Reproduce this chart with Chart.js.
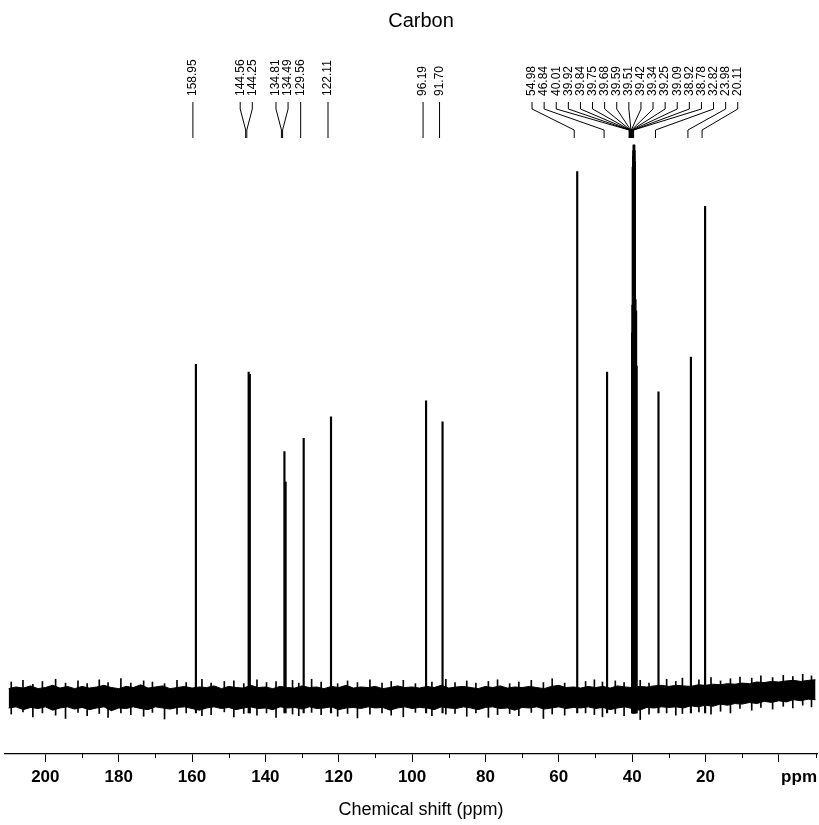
<!DOCTYPE html>
<html>
<head>
<meta charset="utf-8">
<script src="https://cdn.jsdelivr.net/npm/chart.js@4.4.1/dist/chart.umd.min.js"></script>
<style>
  html, body { margin: 0; padding: 0; background: #fff; }
</style>
</head>
<body>
<canvas id="nmr" width="819" height="825"></canvas>
<script>
// chart texts
const chartTitle = 'Carbon';
const axisTitle = 'Chemical shift (ppm)';

// peak list (ppm) and heights (% of tallest line, DMSO)
const peakShifts = [158.95, 144.56, 144.25, 134.81, 134.49, 129.56, 122.11, 96.19, 91.70,
  54.98, 46.84, 40.01, 39.92, 39.84, 39.75, 39.68, 39.59, 39.51, 39.42, 39.34, 39.25,
  39.09, 38.92, 38.78, 32.82, 23.98, 20.11];
const peakLabels = ['158.95', '144.56', '144.25', '134.81', '134.49', '129.56', '122.11', '96.19', '91.70',
  '54.98', '46.84', '40.01', '39.92', '39.84', '39.75', '39.68', '39.59', '39.51', '39.42', '39.34', '39.25',
  '39.09', '38.92', '38.78', '32.82', '23.98', '20.11'];
const peakHeights = [60.3, 58.9, 58.5, 44.5, 39.0, 46.9, 50.8, 53.7, 49.9,
  95.2, 58.9, 66, 71, 96, 98, 99, 100, 100, 100, 99, 97,
  72, 70, 60, 55.3, 61.6, 88.9];
const peakBase = -2.8;

// baseline noise: dense core envelope ...
const noisePpm = [210, 208, 206, 204, 202, 200, 198, 196, 194, 192,
  190, 188, 186, 184, 182, 180, 178, 176, 174, 172,
  170, 168, 166, 164, 162, 160, 158, 156, 154, 152,
  150, 148, 146, 144, 142, 140, 138, 136, 134, 132,
  130, 128, 126, 124, 122, 120, 118, 116, 114, 112,
  110, 108, 106, 104, 102, 100, 98, 96, 94, 92,
  90, 88, 86, 84, 82, 80, 78, 76, 74, 72,
  70, 68, 66, 64, 62, 60, 58, 56, 54, 52,
  50, 48, 46, 44, 42, 40, 38, 36, 34, 32,
  30, 28, 26, 24, 22, 20, 18, 16, 14, 12,
  10, 8, 6, 4, 2, 0, -2, -4, -6, -8, -10];
const noiseTop = [1.6, 1.9, 1.7, 2.1, 1.6, 1.8, 2.2, 1.7, 2.0, 1.6,
  2.0, 1.7, 1.9, 2.2, 1.8, 1.6, 2.0, 1.8, 2.3, 1.7,
  1.9, 2.1, 1.6, 1.8, 2.0, 1.7, 1.9, 1.8, 2.1, 1.6,
  2.0, 1.8, 1.7, 2.2, 1.8, 1.9, 1.6, 2.0, 1.8, 1.7,
  2.1, 1.8, 1.9, 1.6, 2.0, 1.8, 2.2, 1.7, 1.9, 1.8,
  2.0, 1.6, 1.8, 2.1, 1.8, 1.9, 1.7, 2.0, 1.8, 2.2,
  1.7, 1.9, 2.0, 1.8, 1.6, 2.0, 1.8, 2.1, 1.7, 1.9,
  1.8, 2.0, 1.8, 1.6, 2.0, 2.2, 1.8, 1.9, 1.7, 2.0,
  1.8, 2.0, 1.7, 2.1, 1.9, 1.8, 2.0, 1.9, 2.1, 2.2,
  2.0, 2.2, 2.1, 2.0, 2.3, 2.2, 2.4, 2.3, 2.5, 2.4,
  2.6, 2.5, 2.8, 2.7, 2.9, 2.8, 3.0, 3.1, 2.9, 3.1, 3.2];
const noiseBottom = [-1.9, -1.7, -2.2, -1.8, -2.0, -1.7, -2.3, -1.9, -1.7, -2.1,
  -1.8, -2.2, -1.9, -1.7, -2.4, -1.9, -2.0, -1.7, -2.0, -2.2,
  -1.7, -1.9, -2.1, -1.8, -1.7, -2.0, -2.3, -1.9, -1.7, -2.0,
  -1.8, -2.2, -1.9, -1.7, -2.0, -1.9, -2.2, -1.7, -1.9, -1.8,
  -2.1, -1.7, -2.0, -1.9, -1.7, -2.2, -1.9, -1.8, -2.0, -1.7,
  -1.9, -1.8, -2.3, -1.9, -1.7, -2.0, -1.8, -1.9, -2.2, -1.7,
  -1.9, -2.0, -1.7, -1.9, -2.2, -1.8, -1.7, -2.0, -1.9, -2.3,
  -1.8, -1.9, -1.7, -2.1, -1.9, -1.7, -2.0, -1.8, -1.9, -1.7,
  -2.0, -1.8, -2.2, -1.9, -1.7, -2.0, -2.3, -1.8, -1.9, -1.7,
  -1.8, -1.7, -1.9, -1.5, -1.7, -1.4, -1.6, -1.2, -1.4, -1.1,
  -1.2, -0.9, -1.1, -0.7, -0.9, -0.6, -0.8, -0.4, -0.6, -0.3, -0.4];

// ... and the spikes sticking out of it
const spikePpm = [209.3, 206.1, 203.4, 200.8, 197.2, 194.5, 191.1, 188.6, 185.3, 182.9,
  179.4, 176.7, 173.2, 170.8, 167.5, 164.1, 161.6, 157.3, 154.8, 151.2,
  148.6, 145.9, 142.3, 139.7, 137.1, 132.6, 130.9, 127.4, 124.8, 120.3,
  117.6, 114.9, 111.5, 108.2, 105.7, 102.4, 99.1, 94.6, 90.8, 88.3,
  85.1, 82.6, 79.2, 76.7, 73.4, 70.9, 67.5, 64.2, 61.8, 58.4,
  52.7, 50.3, 48.1, 44.6, 42.2, 37.8, 35.4, 30.6, 28.1, 26.3,
  21.8, 18.5, 15.9, 13.2, 10.6, 7.4, 4.9, 1.7, -1.2, -3.8, -6.5, -8.9];
const spikeHi = [2.8, 3.1, 2.4, 2.9, 3.3, 2.6, 3.0, 2.5, 3.2, 2.7,
  3.4, 2.6, 3.0, 2.8, 2.5, 3.1, 2.7, 3.3, 2.6, 2.9,
  3.0, 2.5, 3.2, 2.7, 2.9, 3.1, 2.6, 3.3, 2.8, 2.5,
  3.0, 2.7, 3.2, 2.6, 2.9, 3.1, 2.5, 2.8, 3.3, 2.7,
  3.0, 2.6, 2.9, 3.2, 2.5, 2.8, 3.1, 2.7, 3.4, 2.6,
  2.9, 3.2, 2.8, 3.0, 2.7, 3.1, 2.6, 3.3, 2.9, 3.5,
  3.2, 3.6, 3.0, 3.4, 3.7, 3.5, 3.9, 3.6, 4.0, 3.8, 4.2, 3.9];
const spikeLo = [-3.0, -2.6, -3.5, -2.8, -3.2, -3.8, -2.7, -3.3, -2.9, -3.6,
  -2.8, -3.1, -3.4, -2.7, -3.9, -3.0, -2.8, -3.3, -3.1, -2.6,
  -3.5, -2.9, -3.2, -2.8, -3.6, -3.0, -3.3, -2.7, -3.1, -3.4,
  -2.9, -3.7, -3.0, -2.8, -3.2, -3.5, -2.7, -3.3, -3.0, -2.9,
  -3.4, -2.8, -3.6, -3.1, -2.9, -3.3, -2.7, -3.8, -3.0, -3.2,
  -2.8, -3.1, -3.5, -2.9, -3.3, -4.0, -3.0, -2.8, -3.2, -2.9,
  -2.6, -3.0, -2.5, -2.8, -2.0, -2.3, -1.8, -2.1, -1.6, -1.9, -1.4, -1.7];

// axis ticks
const tickValues = [200, 180, 160, 140, 120, 100, 80, 60, 40, 20, 0];
const minorTickValues = [190, 170, 150, 130, 110, 90, 70, 50, 30, 10, -10];

const FONT = '"Liberation Sans", Arial, Helvetica, sans-serif';

// spread labels so they don't overlap (min gap in px)
function spreadLabels(want, gap) {
  let groups = want.map(w => ({ start: w, n: 1, sum: w }));
  let merged = true;
  while (merged) {
    merged = false;
    for (let i = 0; i < groups.length - 1; i++) {
      const a = groups[i], b = groups[i + 1];
      if (a.start + a.n * gap > b.start) {
        const n = a.n + b.n, sum = a.sum + b.sum;
        groups.splice(i, 2, { start: sum / n - (n - 1) * gap / 2, n: n, sum: sum });
        merged = true;
        break;
      }
    }
  }
  const out = [];
  groups.forEach(g => { for (let k = 0; k < g.n; k++) out.push(g.start + k * gap); });
  return out;
}

const annotate = {
  id: 'annotate',
  afterDraw(chart) {
    const ctx = chart.ctx;
    const xs = chart.scales.x;
    ctx.save();
    ctx.fillStyle = '#000';
    ctx.strokeStyle = '#000';

    // title
    ctx.font = '20px ' + FONT;
    ctx.textAlign = 'center';
    ctx.textBaseline = 'alphabetic';
    ctx.fillText(chartTitle, 421, 27);

    // peak labels + connectors (the scan sits a few px left of the sticks)
    const want = peakShifts.map(p => xs.getPixelForValue(p) - 3);
    const pos = spreadLabels(want, 12.1);
    ctx.lineWidth = 1;
    for (let i = 0; i < want.length; i++) {
      ctx.beginPath();
      ctx.moveTo(pos[i], 102);
      ctx.lineTo(pos[i], 109);
      ctx.lineTo(want[i], 130);
      ctx.lineTo(want[i], 138);
      ctx.stroke();

      ctx.save();
      ctx.translate(pos[i], 96);
      ctx.rotate(-Math.PI / 2);
      ctx.font = '12px ' + FONT;
      ctx.textAlign = 'left';
      ctx.textBaseline = 'middle';
      ctx.fillText(peakLabels[i], 0, 0);
      ctx.restore();
    }

    // minor ticks
    const y0 = xs.top;
    ctx.lineWidth = 1;
    minorTickValues.forEach(v => {
      const px = Math.round(xs.getPixelForValue(v)) + 0.5;
      ctx.beginPath();
      ctx.moveTo(px, y0);
      ctx.lineTo(px, y0 + 4);
      ctx.stroke();
    });

    // unit at the end of the axis
    ctx.font = 'bold 17px ' + FONT;
    ctx.textAlign = 'right';
    ctx.textBaseline = 'middle';
    ctx.fillText('ppm', 817, y0 + 8 + 5 + 10);

    // axis title
    ctx.font = '18px ' + FONT;
    ctx.textAlign = 'center';
    ctx.fillText(axisTitle, 421, 810);
    ctx.restore();
  }
};

new Chart(document.getElementById('nmr'), {
  type: 'bar',
  data: {
    datasets: [
      {
        type: 'line',
        data: noisePpm.map((p, i) => ({ x: p, y: noiseTop[i] })),
        borderColor: '#000',
        borderWidth: 1,
        pointRadius: 0,
        tension: 0,
        fill: false
      },
      {
        type: 'line',
        data: noisePpm.map((p, i) => ({ x: p, y: noiseBottom[i] })),
        borderColor: '#000',
        borderWidth: 1,
        backgroundColor: '#000',
        pointRadius: 0,
        tension: 0,
        fill: '-1'
      },
      {
        type: 'bar',
        data: spikePpm.map((p, i) => ({ x: p, y: [spikeLo[i], spikeHi[i]] })),
        backgroundColor: '#000',
        borderWidth: 0,
        barThickness: 1,
        grouped: false
      },
      {
        type: 'bar',
        data: peakShifts.map((p, i) => ({ x: p, y: [peakBase, peakHeights[i]] })),
        backgroundColor: '#000',
        borderWidth: 0,
        barThickness: 1.5,
        grouped: false
      }
    ]
  },
  options: {
    responsive: false,
    animation: false,
    layout: { padding: { top: 140, left: 5, right: 2, bottom: 32.6 } },
    plugins: {
      legend: { display: false },
      tooltip: { enabled: false }
    },
    scales: {
      x: {
        type: 'linear',
        reverse: true,
        offset: false,
        min: -10.4,
        max: 211,
        afterBuildTicks: scale => { scale.ticks = tickValues.map(v => ({ value: v })); },
        ticks: {
          autoSkip: false,
          maxRotation: 0,
          padding: 5,
          color: '#000',
          font: { family: FONT, size: 17, weight: 'bold' },
          callback: v => (v === 0 ? '' : String(v))
        },
        grid: {
          offset: false,
          drawOnChartArea: false,
          drawTicks: true,
          tickLength: 8,
          tickColor: '#000',
          tickWidth: 1
        },
        border: { display: true, color: '#000', width: 1.3 }
      },
      y: {
        display: false,
        min: -10.23,
        max: 100.9
      }
    }
  },
  plugins: [annotate]
});
</script>
</body>
</html>
